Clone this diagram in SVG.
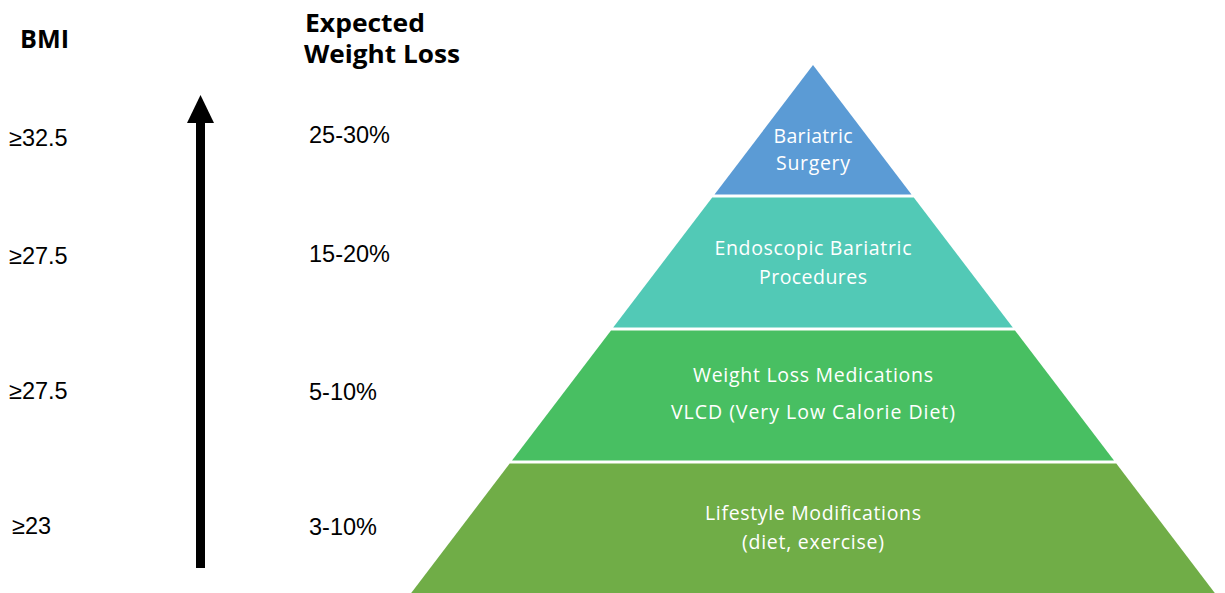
<svg xmlns="http://www.w3.org/2000/svg" width="1225" height="593" viewBox="0 0 1225 593">
<style>
  .hdr { font-family: "Open Sans", "Liberation Sans", sans-serif; font-weight: 700; font-size: 25px; fill: #000; }
  .val { font-family: "Liberation Sans", Arial, sans-serif; font-size: 23.5px; fill: #000; }
  .tier { font-family: "Open Sans", "Liberation Sans", sans-serif; font-size: 19.5px; fill: #fff; text-anchor: middle; }
</style>
<rect width="1225" height="593" fill="#fff"/>
<g id="headers">
  <text class="hdr" x="20" y="48" textLength="49" lengthAdjust="spacingAndGlyphs">BMI</text>
  <text class="hdr" x="305" y="32" textLength="120" lengthAdjust="spacingAndGlyphs">Expected</text>
  <text class="hdr" x="304" y="63" textLength="156" lengthAdjust="spacingAndGlyphs">Weight Loss</text>
</g>
<g id="bmi-values">
  <text class="val" x="9" y="146">≥32.5</text>
  <text class="val" x="9" y="264">≥27.5</text>
  <text class="val" x="9" y="399">≥27.5</text>
  <text class="val" x="12" y="534">≥23</text>
</g>
<g id="loss-values">
  <text class="val" x="309" y="143">25-30%</text>
  <text class="val" x="309" y="262">15-20%</text>
  <text class="val" x="309" y="400">5-10%</text>
  <text class="val" x="309" y="535">3-10%</text>
</g>
<g id="connectors">
  <rect x="196" y="120" width="9" height="448" fill="#000"/>
  <polygon points="200.5,95 187,123 214,123" fill="#000"/>
</g>
<g id="tier-surgery">
  <polygon points="813,65 911.5,194.5 714.5,194.5" fill="#5B9BD5"/>
  <text class="tier" x="813" y="143" textLength="79">Bariatric</text>
  <text class="tier" x="813" y="170" textLength="74">Surgery</text>
</g>
<g id="tier-endoscopic">
  <polygon points="712.2,197.5 913.8,197.5 1012.8,327.5 613.2,327.5" fill="#52C9B6"/>
  <text class="tier" x="813" y="255" textLength="197">Endoscopic Bariatric</text>
  <text class="tier" x="813" y="284" textLength="108">Procedures</text>
</g>
<g id="tier-medications">
  <polygon points="611,330.5 1015,330.5 1114,460.5 512,460.5" fill="#48BF62"/>
  <text class="tier" x="813" y="382" textLength="240">Weight Loss Medications</text>
  <text class="tier" x="813" y="419" textLength="284">VLCD (Very Low Calorie Diet)</text>
</g>
<g id="tier-lifestyle">
  <polygon points="509.7,463.5 1116.3,463.5 1214.8,593 411.2,593" fill="#70AD47"/>
  <text class="tier" x="813" y="520" textLength="216">Lifestyle Modifications</text>
  <text class="tier" x="813" y="549" textLength="142">(diet, exercise)</text>
</g>
</svg>
